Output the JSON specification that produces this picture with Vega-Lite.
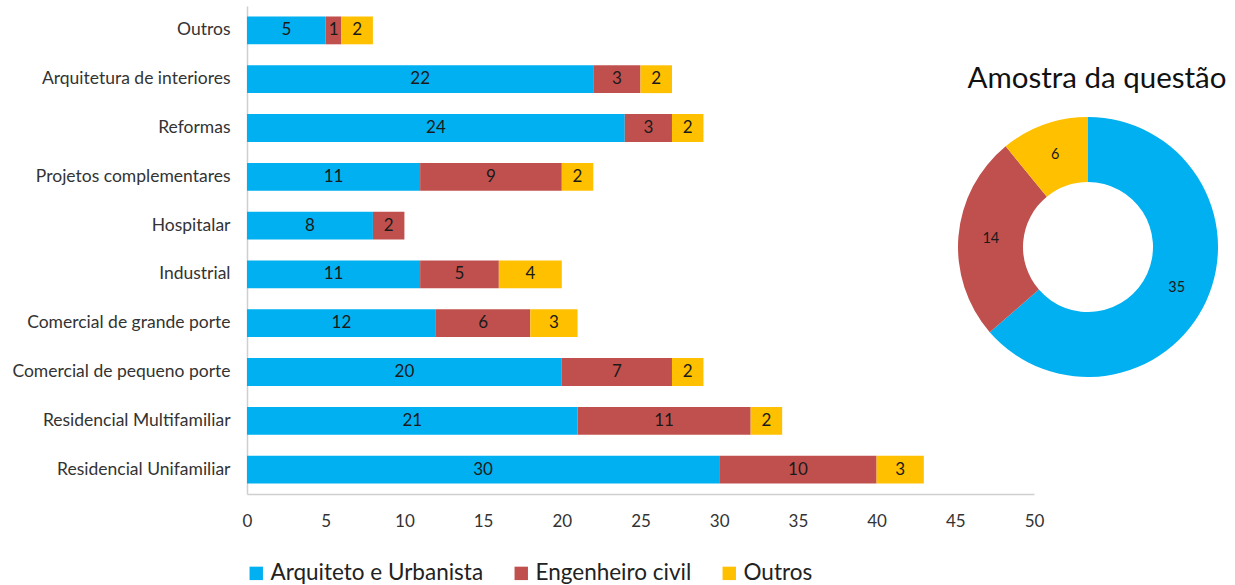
{
  "$schema": "https://vega.github.io/schema/vega-lite/v6.json",
  "padding": {"left": 11, "top": 6, "right": 5, "bottom": 0},
  "bounds": "flush",
  "spacing": 4,
  "background": "#ffffff",
  "config": {
    "font": "Lato",
    "view": {"stroke": null},
    "legend": {
      "orient": "none",
      "legendX": -2,
      "legendY": 556,
      "direction": "horizontal",
      "title": null,
      "symbolType": "square",
      "symbolSize": 180,
      "symbolStrokeWidth": 0,
      "labelFontSize": 22.5,
      "labelColor": "#222222",
      "labelOffset": 3,
      "columnPadding": 26,
      "labelLimit": 400
    }
  },
  "datasets": {
    "segmentos": [
      {"area": "Outros", "perfil": "Arquiteto e Urbanista", "valor": 5},
      {"area": "Outros", "perfil": "Engenheiro civil", "valor": 1},
      {"area": "Outros", "perfil": "Outros", "valor": 2},
      {"area": "Arquitetura de interiores", "perfil": "Arquiteto e Urbanista", "valor": 22},
      {"area": "Arquitetura de interiores", "perfil": "Engenheiro civil", "valor": 3},
      {"area": "Arquitetura de interiores", "perfil": "Outros", "valor": 2},
      {"area": "Reformas", "perfil": "Arquiteto e Urbanista", "valor": 24},
      {"area": "Reformas", "perfil": "Engenheiro civil", "valor": 3},
      {"area": "Reformas", "perfil": "Outros", "valor": 2},
      {"area": "Projetos complementares", "perfil": "Arquiteto e Urbanista", "valor": 11},
      {"area": "Projetos complementares", "perfil": "Engenheiro civil", "valor": 9},
      {"area": "Projetos complementares", "perfil": "Outros", "valor": 2},
      {"area": "Hospitalar", "perfil": "Arquiteto e Urbanista", "valor": 8},
      {"area": "Hospitalar", "perfil": "Engenheiro civil", "valor": 2},
      {"area": "Industrial", "perfil": "Arquiteto e Urbanista", "valor": 11},
      {"area": "Industrial", "perfil": "Engenheiro civil", "valor": 5},
      {"area": "Industrial", "perfil": "Outros", "valor": 4},
      {"area": "Comercial de grande porte", "perfil": "Arquiteto e Urbanista", "valor": 12},
      {"area": "Comercial de grande porte", "perfil": "Engenheiro civil", "valor": 6},
      {"area": "Comercial de grande porte", "perfil": "Outros", "valor": 3},
      {"area": "Comercial de pequeno porte", "perfil": "Arquiteto e Urbanista", "valor": 20},
      {"area": "Comercial de pequeno porte", "perfil": "Engenheiro civil", "valor": 7},
      {"area": "Comercial de pequeno porte", "perfil": "Outros", "valor": 2},
      {"area": "Residencial Multifamiliar", "perfil": "Arquiteto e Urbanista", "valor": 21},
      {"area": "Residencial Multifamiliar", "perfil": "Engenheiro civil", "valor": 11},
      {"area": "Residencial Multifamiliar", "perfil": "Outros", "valor": 2},
      {"area": "Residencial Unifamiliar", "perfil": "Arquiteto e Urbanista", "valor": 30},
      {"area": "Residencial Unifamiliar", "perfil": "Engenheiro civil", "valor": 10},
      {"area": "Residencial Unifamiliar", "perfil": "Outros", "valor": 3}
    ],
    "amostra": [
      {"perfil": "Arquiteto e Urbanista", "total": 35},
      {"perfil": "Engenheiro civil", "total": 14},
      {"perfil": "Outros", "total": 6}
    ]
  },
  "hconcat": [
    {
      "width": 787,
      "height": 488,
      "data": {"name": "segmentos"},
      "transform": [
        {"stack": "valor", "groupby": ["area"], "sort": [{"field": "perfil"}], "as": ["inicio", "fim"]},
        {"calculate": "(datum.inicio + datum.fim) / 2", "as": "meio"}
      ],
      "encoding": {
        "y": {
          "field": "area",
          "type": "nominal",
          "sort": null,
          "title": null,
          "scale": {"paddingInner": 0.43, "paddingOuter": 0.215},
          "axis": {
            "ticks": false,
            "labelPadding": 17,
            "labelFontSize": 17.5,
            "labelColor": "#333333",
            "labelLimit": 400,
            "domainColor": "#cfcfcf",
            "domainWidth": 1.5
          }
        }
      },
      "layer": [
        {
          "mark": {"type": "bar"},
          "encoding": {
            "x": {
              "field": "inicio",
              "type": "quantitative",
              "title": null,
              "scale": {"domain": [0, 50], "nice": false},
              "axis": {
                "values": [0, 5, 10, 15, 20, 25, 30, 35, 40, 45, 50],
                "grid": false,
                "ticks": false,
                "labelFlush": false,
                "labelPadding": 19,
                "labelFontSize": 17,
                "labelColor": "#333333",
                "domainColor": "#cfcfcf",
                "domainWidth": 1.5
              }
            },
            "x2": {"field": "fim"},
            "color": {
              "field": "perfil",
              "type": "nominal",
              "scale": {
                "domain": ["Arquiteto e Urbanista", "Engenheiro civil", "Outros"],
                "range": ["#00B0F0", "#C0504D", "#FFC000"]
              }
            }
          }
        },
        {
          "mark": {"type": "text", "fontSize": 17, "fill": "#1a1a1a"},
          "encoding": {
            "x": {"field": "meio", "type": "quantitative"},
            "text": {"field": "valor", "type": "quantitative"}
          }
        }
      ]
    },
    {
      "width": 100,
      "height": 482,
      "data": {"name": "amostra"},
      "title": {
        "text": "Amostra da questão",
        "fontSize": 29.5,
        "fontWeight": "normal",
        "color": "#111111",
        "anchor": "middle",
        "frame": "group",
        "offset": -88,
        "dx": 9
      },
      "encoding": {
        "theta": {"field": "total", "type": "quantitative", "stack": true},
        "order": {"field": "perfil", "type": "ordinal", "sort": "ascending"}
      },
      "layer": [
        {
          "mark": {"type": "arc", "outerRadius": 130, "innerRadius": 65},
          "encoding": {
            "color": {"field": "perfil", "type": "nominal"}
          }
        },
        {
          "mark": {"type": "text", "radius": 97.5, "fontSize": 14.5, "fill": "#1a1a1a"},
          "encoding": {
            "text": {"field": "total", "type": "quantitative"}
          }
        }
      ]
    }
  ]
}
